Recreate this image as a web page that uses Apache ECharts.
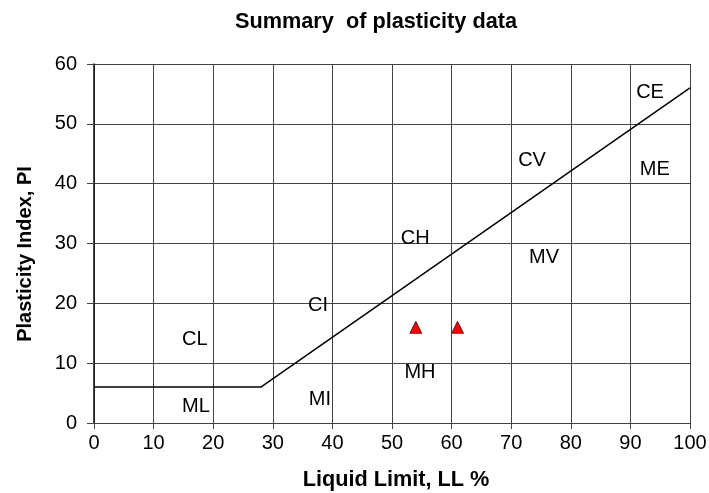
<!DOCTYPE html>
<html><head><meta charset="utf-8">
<script src="https://cdn.jsdelivr.net/npm/echarts@6/dist/echarts.min.js"></script>
<style>html,body{margin:0;padding:0;background:#fff}#c{width:709px;height:493px}</style>
</head><body><div id="c"></div>
<script>
const xTicks = [0,10,20,30,40,50,60,70,80,90,100];
const yTicks = [0,10,20,30,40,50,60];
const aLine = [[0,6],[28,6],[100,56]];
const samples = [[54,16],[61,16]];
const zoneNames = ['CE','ME','CV','CH','MV','CI','CL','MH','ML','MI'];
const zoneX = [93.3,94.1,73.5,53.9,75.5,37.6,16.9,54.7,17.1,37.9];
const zoneY = [55.3,42.4,43.8,30.8,27.6,19.6,13.9,8.5,2.8,4.0];

const font = 'Liberation Sans, Arial, sans-serif';
const chart = echarts.init(document.getElementById('c'));
chart.setOption({
  animation:false,
  title:{text:'Summary  of plasticity data',left:371,top:6,textAlign:'center',
    textStyle:{fontFamily:font,fontSize:21.7,fontWeight:'bold',color:'#000'}},
  grid:{left:94,right:19,top:64,bottom:70,outerBoundsMode:'none',containLabel:false},
  xAxis:{type:'value',min:0,max:100,interval:10,
    name:'Liquid Limit, LL %',nameLocation:'middle',nameGap:46,
    nameTextStyle:{fontFamily:font,fontSize:21.7,fontWeight:'bold',color:'#000',padding:[0,0,0,8]},
    axisLine:{lineStyle:{color:'#444',width:1}},
    axisTick:{show:true,length:6,lineStyle:{color:'#444'}},
    axisLabel:{fontFamily:font,fontSize:20,color:'#000',margin:10,formatter:v=>xTicks.includes(v)?String(v):''},
    splitLine:{show:true,lineStyle:{color:'#444',width:1}}},
  yAxis:{type:'value',min:0,max:60,interval:10,
    name:'Plasticity Index, PI',nameLocation:'middle',nameGap:59,
    nameTextStyle:{fontFamily:font,fontSize:20,fontWeight:'bold',color:'#000',padding:[0,21,0,0]},
    axisLine:{show:true,lineStyle:{color:'#111',width:1.5}},
    axisTick:{show:true,length:7,lineStyle:{color:'#444'}},
    axisLabel:{fontFamily:font,fontSize:20,color:'#000',margin:17,formatter:v=>yTicks.includes(v)?String(v):''},
    splitLine:{show:true,lineStyle:{color:'#444',width:1}}},
  series:[
    {type:'line',data:aLine,symbol:'none',lineStyle:{color:'#000',width:1.5},z:3},
    {type:'scatter',data:samples,symbol:'triangle',symbolSize:12,
      itemStyle:{color:'#ff0000',borderColor:'#500',borderWidth:0.8,opacity:1},z:4},
    {type:'scatter',symbolSize:0,itemStyle:{opacity:1},
      data:zoneNames.map((n,i)=>({value:[zoneX[i],zoneY[i]],name:n})),
      label:{show:true,position:'inside',formatter:p=>p.name,fontFamily:font,fontSize:20,color:'#000'},z:5}
  ]
});
</script></body></html>
